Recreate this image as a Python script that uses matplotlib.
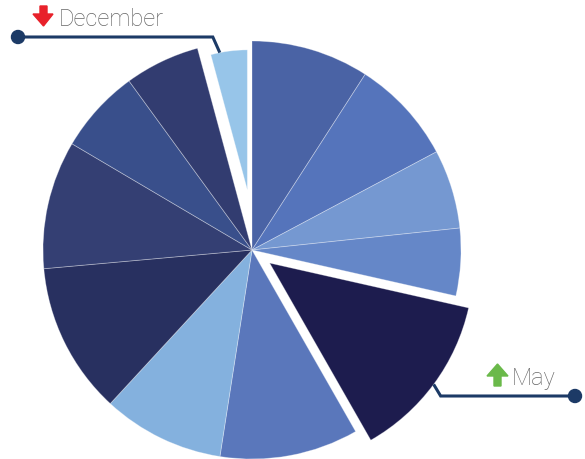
import math
import matplotlib
matplotlib.use("Agg")
import matplotlib.pyplot as plt
from matplotlib.patches import Polygon, Circle

# ---- data ----
months = ["January", "February", "March", "April", "May", "June",
          "July", "August", "September", "October", "November", "December"]
values = [91, 81, 61, 52, 132, 107, 94, 117, 99, 65, 58, 42]
colors = ["#4a63a5", "#5574bb", "#7598d1", "#6587c8", "#1d1c4e", "#5a77bb",
          "#84b1de", "#283060", "#343f73", "#394f8b", "#323c70", "#97c5e9"]
highlight_up = "May"
highlight_down = "December"

W, H = 585, 460
CX, CY, R = 252, 251, 209  # pixel centre / radius of the pie

fig = plt.figure(figsize=(W / 100, H / 100), dpi=100)
ax = fig.add_axes([0, 0, 1, 1])
ax.axis("off")

explode = [0.0] * len(values)
explode[months.index(highlight_up)] = 0.105
explode[months.index(highlight_down)] = 0.29

wedges, _ = ax.pie(values, colors=colors, startangle=90, counterclock=False,
                   explode=explode, radius=1.0,
                   wedgeprops=dict(edgecolor=(1, 1, 1, 0.35), linewidth=0.6))
ax.set_xlim(-CX / R, (W - CX) / R)
ax.set_ylim(-(H - CY) / R, CY / R)
ax.set_aspect("equal")

w_up = wedges[months.index(highlight_up)]
w_dn = wedges[months.index(highlight_down)]
w_up.set_radius(0.976)
w_dn.set_radius(0.67)
cdx, cdy = w_dn.center
w_dn.set_center((cdx + 0.016, cdy))

# overlay axes in pixel coordinates for callouts
ov = fig.add_axes([0, 0, 1, 1], zorder=5)
ov.set_xlim(0, W)
ov.set_ylim(H, 0)
ov.axis("off")


def to_px(xd, yd):
    disp = ax.transData.transform((xd, yd))
    return ov.transData.inverted().transform(disp)


def arc_point(w, frac):
    a = math.radians(w.theta1 + frac * (w.theta2 - w.theta1))
    cx, cy = w.center
    return to_px(cx + w.r * math.cos(a), cy + w.r * math.sin(a))


line_c = "#1c3a66"
text_c = "#666666"

# December callout
sx, sy = arc_point(w_dn, 0.75)
ov.plot([sx, sx - 7, 18], [sy, 38, 38], color=line_c, lw=2.2,
        solid_joinstyle="miter", solid_capstyle="butt")
ov.add_patch(Circle((18, 38), 6.5, color=line_c))
ov.add_patch(Polygon([(40, 7), (47, 7), (47, 15), (53, 15), (43.5, 27),
                      (33, 15), (40, 15)], closed=True, color="#e8212a"))
ov.text(59, 20, highlight_down, fontsize=17, color=text_c, family="Roboto",
        fontweight="light", va="center", ha="left")

# May callout
mx, my = arc_point(w_up, 0.5)
ov.plot([mx, mx + 7, 575], [my, 397, 397], color=line_c, lw=2.2,
        solid_joinstyle="miter", solid_capstyle="butt")
ov.add_patch(Circle((575, 397), 6.5, color=line_c))
ov.add_patch(Polygon([(494, 387), (501, 387), (501, 377), (508, 377),
                      (497.5, 365), (487, 377), (494, 377)], closed=True,
                     color="#6ab94a"))
ov.text(512, 379, highlight_up, fontsize=17, color=text_c, family="Roboto",
        fontweight="light", va="center", ha="left")

fig.savefig("out.png", dpi=100)
